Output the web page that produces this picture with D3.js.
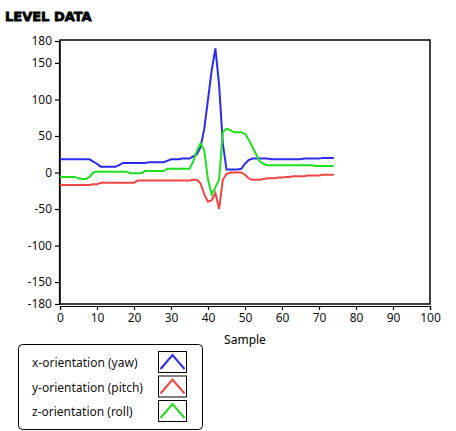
<!DOCTYPE html>
<html><head><meta charset="utf-8">
<script src="https://cdn.jsdelivr.net/npm/d3@7"></script>
<style>body{margin:0;background:#fff}text{font-family:"Noto Sans",sans-serif}</style>
</head><body><svg id="c" width="456" height="431"></svg>
<script>
const yTicks=[180,150,100,50,0,-50,-100,-150,-180];
const xTicks=[0,10,20,30,40,50,60,70,80,90,100];
const seriesNames=["x-orientation (yaw)","y-orientation (pitch)","z-orientation (roll)"];
const seriesColors=["#2b2bf0","#f04545","#1ee01e"];
const yaw=[18,18,18,18,18,18,18,18,18,15,12,8,8,8,8,8,10,13,13,13,13,13,13,13,14,14,14,14,14,16,18,18,18,19,19,19,22,25,35,60,100,140,170,120,40,4,4,4,4,5,12,17,19,19,19,19,19,18,18,18,18,18,18,18,18,18,19,19,19,19,19,20,20,20,20];
const pitch=[-17,-17,-17,-17,-17,-17,-17,-17,-17,-16,-16,-14,-14,-14,-14,-14,-14,-14,-14,-14,-14,-11,-11,-11,-11,-11,-11,-11,-11,-11,-11,-11,-11,-11,-11,-11,-10,-10,-15,-30,-40,-38,-28,-50,-10,-2,0,0,0,0,-3,-8,-10,-10,-10,-9,-8,-8,-8,-7,-7,-6,-6,-5,-5,-5,-5,-4,-4,-4,-4,-3,-3,-3,-3];
const roll=[-6,-6,-6,-6,-6,-8,-9,-9,-6,0,1,1,1,1,1,1,1,1,1,-1,-1,-1,-1,2,2,2,2,2,2,5,5,5,5,5,5,5,15,30,40,30,-10,-30,-20,-10,55,60,58,55,55,55,53,45,35,25,15,12,10,10,10,10,10,10,10,10,10,10,10,10,10,9,9,9,9,9,9];
const data=[yaw,pitch,roll];
const svg=d3.select("#c");
const L=60,R=430,T=40,B=304;
const x=d3.scaleLinear().domain([0,100]).range([L,R]);
const y=d3.scaleLinear().domain([-180,180]).range([B,41]);
svg.append("text").attr("x",5).attr("y",21).text("LEVEL DATA").style("font-family","DejaVu Sans").style("font-weight","900").style("font-size","13px").attr("stroke","#000").attr("stroke-width",0.8);
svg.append("rect").attr("x",L).attr("y",T).attr("width",R-L).attr("height",B-T).attr("fill","none").attr("stroke","#000").attr("stroke-width",1.5);
const ya=svg.append("g").attr("transform",`translate(${L-1},0)`).call(d3.axisLeft(y).tickValues(yTicks).tickFormat(d=>String(d)).tickSize(4).tickPadding(3));
const xa=svg.append("g").attr("transform",`translate(0,${B+2})`).call(d3.axisBottom(x).tickValues(xTicks).tickFormat(d=>String(d)).tickSize(4).tickPadding(3));
[ya,xa].forEach(a=>{a.select(".domain").attr("stroke","#000").attr("stroke-width",1.2);a.selectAll("text").style("font-size","12px").attr("fill","#111");a.selectAll("line").attr("stroke","#000").attr("stroke-width",1.2);});
svg.append("text").attr("x",x(50)).attr("y",344).attr("text-anchor","middle").style("font-size","12px").text("Sample");
const line=d3.line().x((d,i)=>x(i)).y(d=>y(d));
data.forEach((s,k)=>svg.append("path").attr("d",line(s)).attr("fill","none").attr("stroke",seriesColors[k]).attr("stroke-width",2));
svg.append("rect").attr("x",18.5).attr("y",344.5).attr("width",184).attr("height",85).attr("rx",4).attr("fill","#fff").attr("stroke","#000");
seriesNames.forEach((n,k)=>{const cy=362+k*24.5;
svg.append("text").attr("x",32).attr("y",cy+5).style("font-size","12px").attr("fill","#111").text(n);
svg.append("rect").attr("x",158.5).attr("y",cy-10.5).attr("width",28).attr("height",21).attr("fill","#fff").attr("stroke","#000");
svg.append("path").attr("d",`M${160.5},${cy+7}L${172.5},${cy-7}L${184.5},${cy+7}`).attr("fill","none").attr("stroke",seriesColors[k]).attr("stroke-width",2);});
</script></body></html>
